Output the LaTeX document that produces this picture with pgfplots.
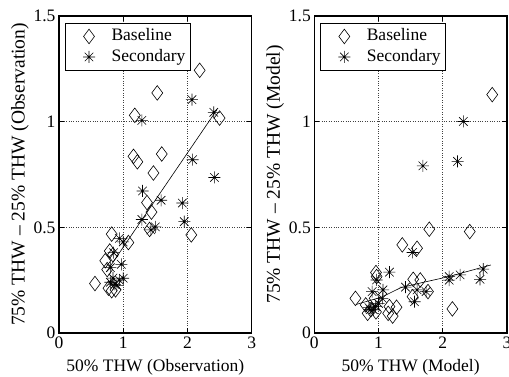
\documentclass[border=0pt]{standalone}
\usepackage{fontspec}
\setmainfont{Liberation Serif}
\usepackage{pgfplots}
\pgfplotsset{compat=1.18}
\pgfdeclareplotmark{mstar}{%
 \pgfpathmoveto{\pgfqpoint{0pt}{\pgfplotmarksize}}\pgfpathlineto{\pgfqpoint{0pt}{-\pgfplotmarksize}}%
 \pgfpathmoveto{\pgfqpoint{\pgfplotmarksize}{0pt}}\pgfpathlineto{\pgfqpoint{-\pgfplotmarksize}{0pt}}%
 \pgfpathmoveto{\pgfqpoint{.7071\pgfplotmarksize}{.7071\pgfplotmarksize}}\pgfpathlineto{\pgfqpoint{-.7071\pgfplotmarksize}{-.7071\pgfplotmarksize}}%
 \pgfpathmoveto{\pgfqpoint{-.7071\pgfplotmarksize}{.7071\pgfplotmarksize}}\pgfpathlineto{\pgfqpoint{.7071\pgfplotmarksize}{-.7071\pgfplotmarksize}}%
 \pgfusepathqstroke}
\pgfplotsset{
  mystyle/.style={
    scale only axis, width=192.7pt, height=317pt,
    xmin=0, xmax=3, ymin=0, ymax=1.5,
    xtick={0,1,2,3}, ytick={0,0.5,1,1.5},
    yticklabels={0,0.5,1,1.5},
    xticklabels={0,1,2,3},
    grid=major, grid style={dotted, black!75, line width=0.6pt},
    tick align=inside, major tick length=5pt,
    axis line style={line width=1.1pt},
    tick style={line width=0.6pt, black},
    font=\fontsize{17.5}{20}\selectfont,
    tick label style={font=\fontsize{17.5}{20}\selectfont},
    /pgf/number format/assume math mode=true,
    every axis y label/.style={at={(axis description cs:-0.2025,0.5)},rotate=90,anchor=center,font=\fontsize{19.5}{22}\selectfont},
    every axis x label/.style={at={(axis description cs:0.5,-0.108)},anchor=center},
    legend style={at={(axis description cs:0.031,0.979)}, anchor=north west,
      draw=black, line width=1.1pt, fill=white, inner xsep=3pt, inner ysep=3pt,
      nodes={inner sep=2pt, text height=12.5pt, text depth=4pt, line width=0.6pt},
      font=\fontsize{17.5}{20}\selectfont},
    legend cell align=left,
    legend image code/.code={\path[draw=none,fill=none] (0pt,-1pt) rectangle (41pt,1pt); \path[##1, draw=none] plot[only marks] coordinates {(20.5pt,0pt)};},
    base/.style={only marks, mark=diamond, mark size=7.3pt, black, line width=0.6pt, mark options={solid, fill=none, draw=black}},
    sec/.style={only marks, mark=mstar, mark size=6pt, black, line width=0.6pt, mark options={draw=black}},
  }
}
\begin{document}
\begin{tikzpicture}
\begin{axis}[mystyle, at={(0pt,0pt)}, anchor=south west,
  xlabel={50\% THW (Observation)},
  ylabel={75\% THW -- 25\% THW (Observation)}]
\addplot[base] coordinates {
(2.19,1.243)(1.53,1.136)(1.18,1.03)(2.50,1.017)(1.16,0.836)(1.22,0.81)(1.60,0.847)(1.47,0.757)
(1.37,0.617)(1.44,0.572)(1.41,0.49)(2.06,0.464)(0.82,0.468)(1.08,0.428)(0.79,0.388)(0.72,0.342)
(0.56,0.234)(0.77,0.212)(0.88,0.204)(0.82,0.2)(0.75,0.3)(0.84,0.37)
};
\addlegendentry{Baseline}
\addplot[sec] coordinates {
(2.07,1.104)(1.29,1.006)(2.41,1.044)(2.08,0.82)(2.42,0.736)(1.30,0.672)(1.59,0.628)(1.92,0.615)
(1.95,0.527)(1.29,0.537)(1.50,0.502)(1.43,0.488)(0.94,0.448)(1.00,0.431)(0.85,0.38)(0.97,0.325)
(0.80,0.309)(0.84,0.26)(0.94,0.25)(0.80,0.24)(0.9,0.225)(1.00,0.259)(0.87,0.23)
};
\addlegendentry{Secondary}
\addplot[black, line width=0.6pt, mark=none, forget plot] coordinates {(0.74,0.29)(2.46,1.057)};
\end{axis}
\begin{axis}[mystyle, at={(255.3pt,0pt)}, anchor=south west,
  xlabel={50\% THW (Model)},
  ylabel={75\% THW -- 25\% THW (Model)}]
\addplot[base] coordinates {
(2.77,1.128)(1.79,0.491)(2.42,0.48)(1.37,0.417)(1.60,0.401)(0.96,0.286)(0.97,0.267)(1.54,0.254)
(1.65,0.251)(0.64,0.164)(1.53,0.172)(1.77,0.196)(2.15,0.114)(1.28,0.122)(1.22,0.08)(1.15,0.093)
(0.80,0.133)(0.83,0.093)(0.96,0.10)(0.94,0.164)(1.17,0.125)(0.88,0.11)
};
\addlegendentry{Baseline}
\addplot[sec] coordinates {
(2.32,1.001)(2.23,0.812)(1.69,0.791)(1.53,0.381)(1.17,0.288)(0.97,0.251)(0.90,0.196)(1.07,0.204)
(1.42,0.217)(1.60,0.204)(1.74,0.196)(1.56,0.148)(1.06,0.164)(0.87,0.11)(0.92,0.11)(1.0,0.14)
(0.85,0.12)(0.95,0.125)(2.10,0.267)(2.10,0.25)(2.27,0.275)(2.58,0.254)(2.63,0.302)
};
\addlegendentry{Secondary}
\addplot[black, line width=0.6pt, mark=none, forget plot] coordinates {
(0.65,0.135)(1.05,0.17)(1.35,0.215)(1.7,0.24)(2.07,0.265)(2.75,0.322)};
\end{axis}
\pgfresetboundingbox
\path[use as bounding box] (-59pt,-44pt) rectangle (450pt,333pt);
\end{tikzpicture}
\end{document}
